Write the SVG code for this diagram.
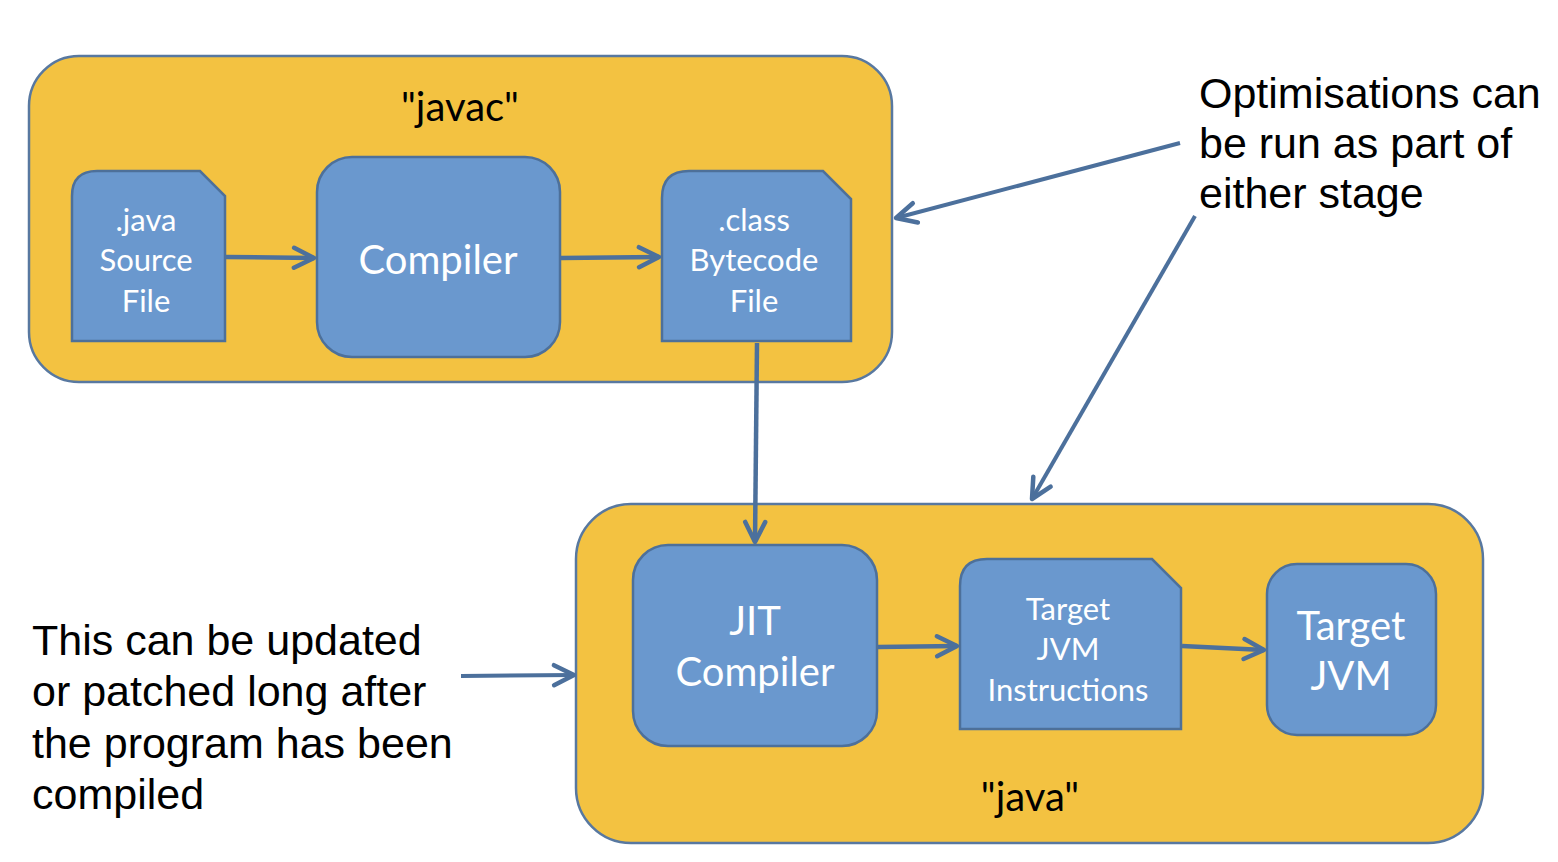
<svg xmlns="http://www.w3.org/2000/svg" width="1558" height="862" viewBox="0 0 1558 862">
<defs>
<style>
.stage{fill:#F3C241;stroke:#5878A0;stroke-width:2.5}
.node{fill:#6A98CE;stroke:#4D709A;stroke-width:2.5}
.nt{font-family:Lato,"Noto Sans",sans-serif;fill:#ffffff;text-anchor:middle}
.big{font-size:40px}
.small{font-size:31px}
.lbl{font-family:Lato,"Noto Sans",sans-serif;font-size:40px;fill:#000;text-anchor:middle}
.note{font-family:"Liberation Sans",Arial,sans-serif;font-size:43px;fill:#000}
.conn{fill:none;stroke:#4C709C;stroke-width:4.5;marker-end:url(#arr)}
.conn2{fill:none;stroke:#4C709C;stroke-width:4;marker-end:url(#arr)}
</style>
<marker id="arr" viewBox="-24 -14 28 28" markerWidth="28" markerHeight="28" refX="0" refY="0" orient="auto" markerUnits="userSpaceOnUse">
<path d="M-20,-10 L0,0 L-20,10" fill="none" stroke="#4C709C" stroke-width="4.5" stroke-linecap="round" stroke-linejoin="round"/>
</marker>
</defs>
<rect width="1558" height="862" fill="#ffffff"/>

<g id="javac-stage">
<rect class="stage" x="29" y="56" width="863" height="326" rx="50" ry="50"/>
<text class="lbl" x="460" y="121">"javac"</text>
</g>
<g id="java-stage">
<rect class="stage" x="576" y="504" width="907" height="339" rx="55" ry="55"/>
<text class="lbl" x="1030" y="811">"java"</text>
</g>

<g id="java-source">
<path class="node" d="M72,341 L72,196 Q72,171 97,171 L200,171 L225,196 L225,341 Z"/>
<text class="nt small" x="146" y="231">.java</text>
<text class="nt small" x="146" y="271">Source</text>
<text class="nt small" x="146" y="312">File</text>
</g>
<g id="compiler">
<rect class="node" x="317" y="157" width="243" height="200" rx="35" ry="35"/>
<text class="nt big" x="438" y="274">Compiler</text>
</g>
<g id="class-file">
<path class="node" d="M662,341 L662,198 Q662,171 689,171 L823,171 L851,199 L851,341 Z"/>
<text class="nt small" x="754" y="231">.class</text>
<text class="nt small" x="754" y="271">Bytecode</text>
<text class="nt small" x="754" y="312">File</text>
</g>
<g id="jit-compiler">
<rect class="node" x="633" y="545" width="244" height="201" rx="35" ry="35"/>
<text class="nt big" x="755" y="635">JIT</text>
<text class="nt big" x="755" y="686">Compiler</text>
</g>
<g id="target-jvm-instructions">
<path class="node" d="M960,729 L960,586 Q960,559 987,559 L1152,559 L1181,588 L1181,729 Z"/>
<text class="nt small" x="1068" y="620">Target</text>
<text class="nt small" x="1068" y="660">JVM</text>
<text class="nt small" x="1068" y="701">Instructions</text>
</g>
<g id="target-jvm">
<rect class="node" x="1267" y="564" width="169" height="171" rx="30" ry="30"/>
<text class="nt big" x="1351" y="640">Target</text>
<text class="nt big" x="1351" y="690">JVM</text>
</g>

<g id="note-optimisations">
<text class="note" x="1199" y="108">Optimisations can</text>
<text class="note" x="1199" y="158">be run as part of</text>
<text class="note" x="1199" y="208">either stage</text>
</g>
<g id="note-updated">
<text class="note" x="32" y="655">This can be updated</text>
<text class="note" x="32" y="706">or patched long after</text>
<text class="note" x="32" y="758">the program has been</text>
<text class="note" x="32" y="809">compiled</text>
</g>

<g id="connectors">
<line class="conn" x1="226" y1="257" x2="314" y2="258"/>
<line class="conn" x1="561" y1="258" x2="659" y2="257"/>
<line class="conn" x1="757" y1="343" x2="755" y2="542"/>
<line class="conn" x1="878" y1="647" x2="957" y2="646"/>
<line class="conn" x1="1182" y1="646" x2="1264" y2="650"/>
<line class="conn2" x1="1180" y1="143" x2="896" y2="218"/>
<line class="conn2" x1="1195" y1="216" x2="1032" y2="499"/>
<line class="conn2" x1="461" y1="676" x2="574" y2="675"/>
</g>
</svg>
